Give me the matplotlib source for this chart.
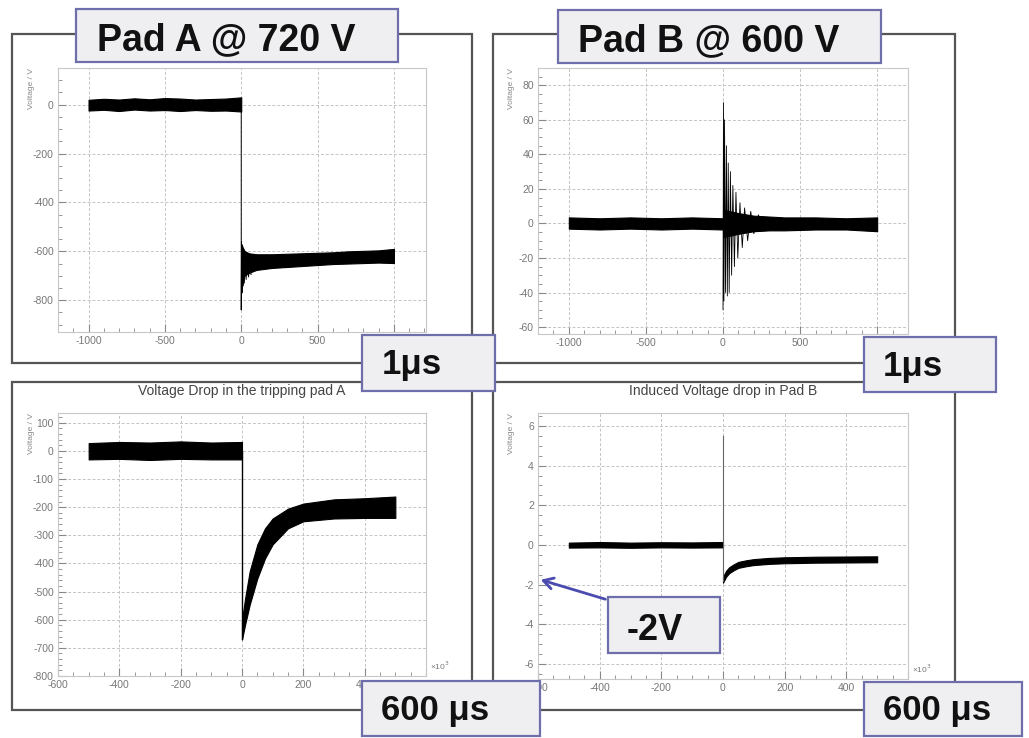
import matplotlib.pyplot as plt
from matplotlib.patches import Rectangle, FancyArrowPatch
from matplotlib.ticker import MultipleLocator

plt.rcParams['font.family'] = ['Liberation Sans', 'DejaVu Sans']
plt.rcParams['axes.unicode_minus'] = False

W, H = 1029, 738

# ---- Pad A @ 720 V, 1 us window (time in ns) ----
a_pre_t = [-1000, -900, -800, -700, -600, -500, -400, -300, -200, -100, 0]
a_pre_hi = [20, 24, 21, 26, 22, 27, 25, 21, 23, 25, 30]
a_pre_lo = [-24, -21, -26, -20, -24, -22, -26, -22, -25, -24, -28]
a_post_t = [0, 20, 50, 100, 200, 300, 400, 500, 600, 700, 800, 900, 1000]
a_post_hi = [-570, -598, -608, -612, -612, -610, -608, -606, -604, -600, -598, -596, -590]
a_post_lo = [-760, -700, -688, -676, -668, -664, -660, -656, -652, -650, -648, -646, -648]
a_ring_t = [0, 0, 2, 5, 8, 12, 16, 20, 26, 32, 40, 48, 56, 64]
a_ring_v = [0, -840, -560, -770, -575, -740, -590, -730, -600, -715, -610, -705, -615, -695]

# ---- Pad B @ 600 V, 1 us window ----
b_pre_t = [-1000, -800, -600, -400, -200, 0]
b_pre_hi = [3.5, 3.0, 3.5, 3.0, 3.5, 3.0]
b_pre_lo = [-3.0, -3.5, -3.0, -3.5, -3.0, -3.5]
b_post_t = [0, 100, 200, 300, 400, 600, 800, 1000]
b_post_hi = [8, 6, 4.5, 4, 3.5, 3.5, 3, 3.5]
b_post_lo = [-8, -6, -4.5, -4, -4, -3.5, -3.5, -4.5]
b_ring_t = [0, 3, 6, 10, 16, 22, 28, 34, 40, 48, 56, 64, 74, 84, 96,
            110, 125, 140, 160, 180, 200, 230, 260, 300]
b_ring_v = [-50, 70, -45, 60, -40, 45, -42, 35, -40, 30, -30, 22, -25, 18, -20,
            12, -14, 9, -10, 7, -6, 5, -4, 3]

# ---- Pad A, 600 us window (x10^3 ns) ----
al_pre_t = [-500, -400, -300, -200, -100, 0]
al_pre_hi = [28, 32, 30, 34, 30, 32]
al_pre_lo = [-30, -28, -32, -28, -30, -30]
al_post_t = [0, 10, 25, 50, 75, 100, 150, 200, 300, 400, 500]
al_post_hi = [-600, -525, -428, -332, -275, -240, -205, -187, -172, -168, -162]
al_post_lo = [-670, -618, -547, -453, -382, -332, -275, -250, -240, -238, -238]

# ---- Pad B, 600 us window ----
bl_pre_t = [-500, -400, -300, -200, -100, 0]
bl_pre_hi = [0.12, 0.15, 0.12, 0.14, 0.13, 0.15]
bl_pre_lo = [-0.13, -0.12, -0.14, -0.12, -0.13, -0.12]
bl_post_t = [0, 10, 20, 35, 50, 75, 100, 150, 200, 300, 400, 500]
bl_post_v = [-1.75, -1.45, -1.27, -1.12, -1.0, -0.92, -0.86, -0.8, -0.77, -0.74, -0.73, -0.72]
bl_spike_v = [-1.8, 5.5]
bl_band = 0.15

fig = plt.figure(figsize=(W / 100, H / 100), dpi=100)


def rect(x0, y0, x1, y1):
    return [x0 / W, 1 - y1 / H, (x1 - x0) / W, (y1 - y0) / H]


def style(ax, xlim, ylim, xmaj, xmin, ymaj, ymin):
    ax.set_xlim(xlim)
    ax.set_ylim(ylim)
    ax.set_axisbelow(True)
    ax.xaxis.set_major_locator(MultipleLocator(xmaj))
    ax.xaxis.set_minor_locator(MultipleLocator(xmin))
    ax.yaxis.set_major_locator(MultipleLocator(ymaj))
    ax.yaxis.set_minor_locator(MultipleLocator(ymin))
    ax.grid(True, which='major', color='#c4c4c4', ls=(0, (3, 2)), lw=0.7)
    ax.tick_params(which='both', direction='in', color='#888888',
                   labelsize=7.5, labelcolor='#777777', pad=3)
    ax.tick_params(which='major', length=6)
    ax.tick_params(which='minor', length=3)
    for s in ax.spines.values():
        s.set_color('#c8c8c8')
        s.set_linewidth(0.8)
    ax.set_ylabel('Voltage / V', fontsize=6, color='#888888', loc='top')
    ax.yaxis.set_label_coords(-0.062, 1.0)


# panel frames
for x0, y0, x1, y1 in [(12, 34, 472, 363), (493, 34, 955, 363),
                       (12, 382, 472, 710), (493, 382, 955, 710)]:
    fig.add_artist(Rectangle((x0 / W, 1 - y1 / H), (x1 - x0) / W, (y1 - y0) / H,
                             transform=fig.transFigure, fill=False,
                             ec='#555555', lw=1.6, zorder=1))

ax1 = fig.add_axes(rect(58, 68, 426, 332))
ax1.fill_between(a_pre_t, a_pre_lo, a_pre_hi, color='black', lw=0.8)
ax1.fill_between(a_post_t, a_post_lo, a_post_hi, color='black', lw=0.8)
ax1.plot(a_ring_t, a_ring_v, color='black', lw=0.7)
style(ax1, (-1200, 1210), (-930, 150), 500, 100, 200, 50)

ax2 = fig.add_axes(rect(538, 68, 908, 334))
ax2.fill_between(b_pre_t, b_pre_lo, b_pre_hi, color='black', lw=0.8)
ax2.fill_between(b_post_t, b_post_lo, b_post_hi, color='black', lw=0.8)
ax2.plot(b_ring_t, b_ring_v, color='black', lw=0.6)
style(ax2, (-1200, 1200), (-64, 90), 500, 100, 20, 5)

ax3 = fig.add_axes(rect(58, 413, 426, 676))
ax3.fill_between(al_pre_t, al_pre_lo, al_pre_hi, color='black', lw=0.8)
ax3.fill_between(al_post_t, al_post_lo, al_post_hi, color='black', lw=0.8)
ax3.plot([al_pre_t[-1], al_post_t[0]], [0, al_post_lo[0]], color='black', lw=1)
style(ax3, (-600, 600), (-800, 135), 200, 50, 100, 20)
ax3.set_title('Voltage Drop in the tripping pad A', fontsize=10, color='#444444', pad=13)

ax4 = fig.add_axes(rect(538, 413, 908, 679))
ax4.fill_between(bl_pre_t, bl_pre_lo, bl_pre_hi, color='black', lw=0.8)
ax4.fill_between(bl_post_t, [v - bl_band for v in bl_post_v],
                 [v + bl_band for v in bl_post_v], color='black', lw=0.8)
ax4.plot([bl_post_t[0], bl_post_t[0]], bl_spike_v, color='#666666', lw=0.8)
style(ax4, (-600, 600), (-6.75, 6.65), 200, 50, 2, 0.5)
ax4.set_title('Induced Voltage drop in Pad B', fontsize=10, color='#444444', pad=13)

for ax in (ax3, ax4):
    ax.text(1.01, 0.015, '×10$^3$', transform=ax.transAxes, fontsize=6,
            color='#777777', ha='left', va='bottom')

# annotation boxes (pixel coordinates, from top-left)
boxes = [
    (76, 9, 398, 62, 'Pad A @ 720 V', 97, 50, 27),
    (558, 10, 881, 63, 'Pad B @ 600 V', 578, 51, 27),
    (362, 335, 495, 391, '1μs', 382, 374, 25),
    (864, 337, 996, 392, '1μs', 883, 376, 25),
    (362, 681, 540, 736, '600 μs', 381, 720, 25),
    (864, 682, 1022, 736, '600 μs', 883, 720, 25),
    (608, 597, 720, 653, '-2V', 627, 640, 26),
]
for x0, y0, x1, y1, label, tx, ty, fs in boxes:
    fig.add_artist(Rectangle((x0 / W, 1 - y1 / H), (x1 - x0) / W, (y1 - y0) / H,
                             transform=fig.transFigure, fc='#efeff2',
                             ec='#6e6eaa', lw=1.6, zorder=5))
    fig.text(tx / W, 1 - ty / H, label, fontsize=fs, fontweight='bold',
             color='#111111', ha='left', va='baseline', zorder=6)

fig.add_artist(FancyArrowPatch((608 / W, 1 - 600 / H), (538 / W, 1 - 579 / H),
                               transform=fig.transFigure,
                               arrowstyle='->,head_length=7,head_width=4',
                               color='#4b4bb0', lw=2, zorder=6))

fig.savefig('out.png', dpi=100)
